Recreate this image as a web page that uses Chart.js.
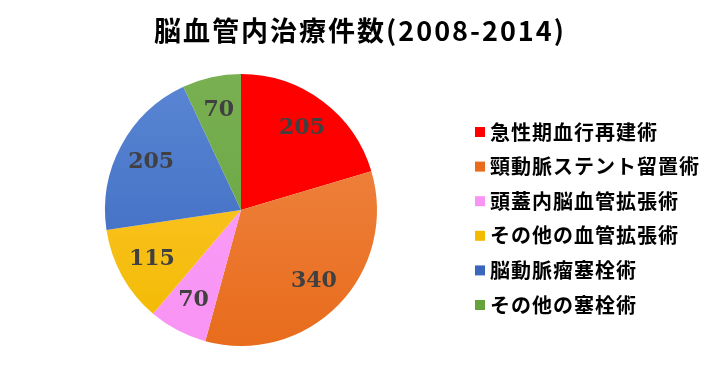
<!DOCTYPE html>
<html><head><meta charset="utf-8">
<script src="https://cdn.jsdelivr.net/npm/chart.js@4/dist/chart.umd.min.js"></script>
<style>html,body{margin:0;padding:0;background:#fff}#wrap{width:720px;height:384px}</style>
</head><body><div id="wrap"><canvas id="c" width="720" height="384"></canvas></div>
<script>
const titleText = '脳血管内治療件数(2008-2014)';
const categories = ['急性期血行再建術','頸動脈ステント留置術','頭蓋内脳血管拡張術','その他の血管拡張術','脳動脈瘤塞栓術','その他の塞栓術'];
const counts = [205, 340, 70, 115, 205, 70];
const colorTop = ['#FF0000','#F0894A','#FB9EF8','#FFC738','#5A86D4','#79B052'];
const colorBottom = ['#FF0000','#E86C1C','#F894F4','#F2BA00','#3A66BE','#64A23C'];

function grad(ctx, i){
  const ch = ctx.chart; const a = ch.chartArea;
  if(!a) return colorTop[i];
  const g = ch.ctx.createLinearGradient(0, a.top, 0, a.bottom);
  g.addColorStop(0, colorTop[i]); g.addColorStop(1, colorBottom[i]);
  return g;
}

const overlay = {
  id:'overlay',
  afterDraw(chart){
    const ctx = chart.ctx;
    // title
    ctx.save();
    ctx.fillStyle = '#000';
    ctx.font = 'bold 27px "Noto Sans CJK JP"';
    ctx.letterSpacing = '2px';
    ctx.textAlign = 'center'; ctx.textBaseline = 'middle';
    ctx.fillText(titleText, 360, 31);
    ctx.restore();
    // data labels
    const meta = chart.getDatasetMeta(0);
    ctx.save();
    ctx.font = 'bold 22px "DejaVu Serif"';
    ctx.fillStyle = '#404040';
    ctx.textAlign = 'center'; ctx.textBaseline = 'middle';
    meta.data.forEach((arc, i) => {
      const p = arc.getProps(['x','y','startAngle','endAngle','outerRadius']);
      const mid = (p.startAngle + p.endAngle)/2;
      const r = p.outerRadius * 0.75;
      ctx.fillText(String(counts[i]), p.x + Math.cos(mid)*r, p.y + Math.sin(mid)*r);
    });
    ctx.restore();
    // legend
    ctx.save();
    ctx.font = 'bold 20px "Noto Sans CJK JP"';
    ctx.letterSpacing = '1px';
    ctx.textBaseline = 'middle'; ctx.textAlign = 'left';
    categories.forEach((c, i) => {
      const y = 132 + i*34.6;
      ctx.fillStyle = colorBottom[i];
      ctx.fillRect(475, y-5, 10, 10);
      ctx.fillStyle = '#000';
      ctx.fillText(c, 490, y);
    });
    ctx.restore();
  }
};

new Chart(document.getElementById('c'), {
  type: 'pie',
  data: { labels: categories, datasets: [{ data: counts, backgroundColor: (ctx)=>grad(ctx, ctx.dataIndex), borderWidth: 0 }] },
  options: {
    responsive: false, animation: false,
    layout: { padding: { left: 105, right: 343, top: 74, bottom: 38 } },
    plugins: { legend: { display: false }, title: { display: false }, tooltip: { enabled: false } }
  },
  plugins: [overlay]
});
</script></body></html>
